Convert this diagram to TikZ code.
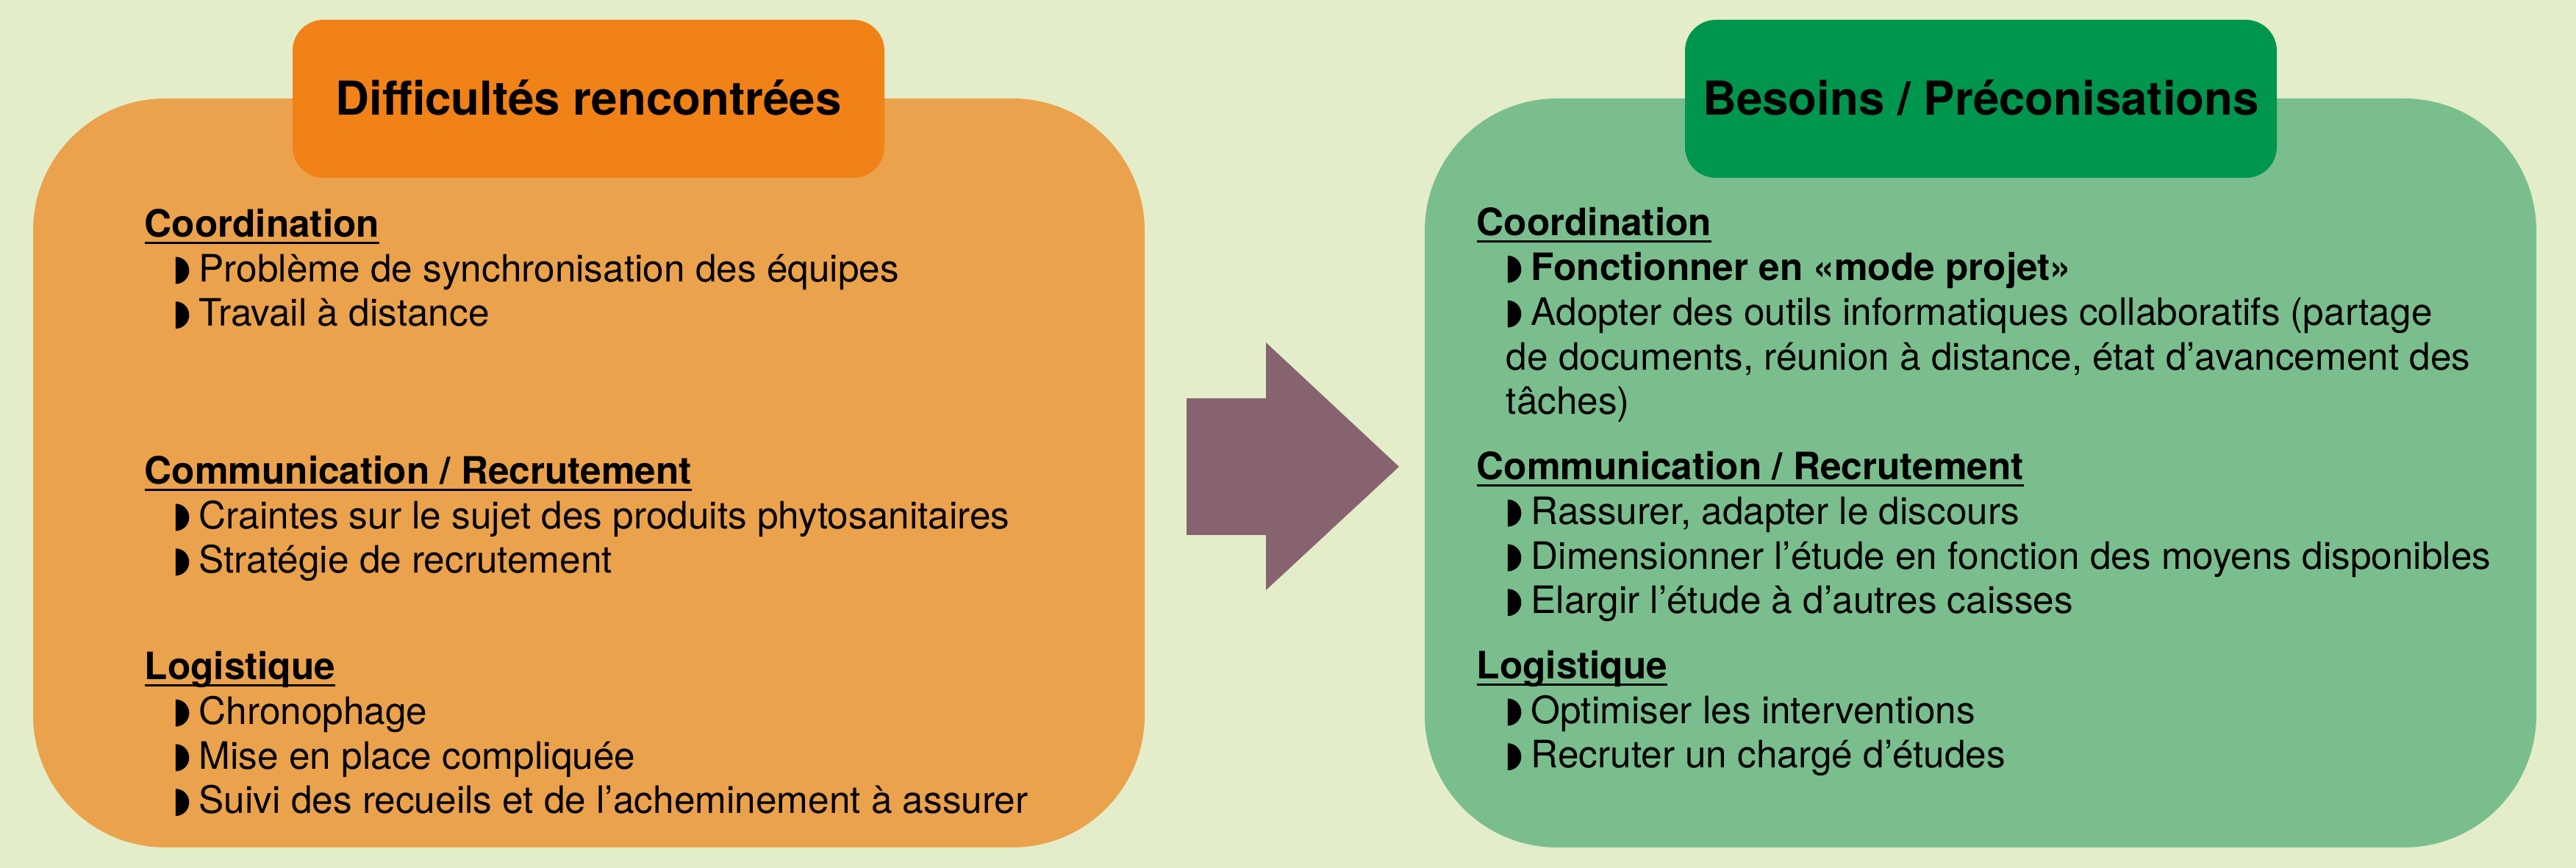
\documentclass[tikz,border=0pt]{standalone}
\usepackage{fontspec}
\setmainfont{TeX Gyre Heros}
\usepackage{tikz}

\definecolor{fond}{HTML}{E3EDC9}
\definecolor{orangeclair}{HTML}{EBA24C}
\definecolor{orangefonce}{HTML}{F08218}
\definecolor{vertclair}{HTML}{7ABE8E}
\definecolor{vertfonce}{HTML}{00964D}
\definecolor{fleche}{HTML}{876370}

\newcommand{\puce}{\tikz[baseline=0.9pt]\fill (0,0) arc[start angle=-90,end angle=90,radius=5.25pt] -- cycle;\hspace{3.8pt}}
\newcommand{\rubrique}[1]{\setbox0\hbox{\bfseries #1}\rlap{\rule[-2.7pt]{\wd0}{0.85pt}}\box0}
\newcommand{\point}{\hspace*{12pt}\puce}

\begin{document}
\begin{tikzpicture}[
    boite/.style={rounded corners=1.8cm},
    entete/.style={rounded corners=0.42cm},
    titre/.style={anchor=base, font=\bfseries\fontsize{18.1pt}{21pt}\selectfont},
    % ancre = ligne de base de la derniere ligne
    liste/.style={anchor=base west, align=left, inner sep=0pt, font=\fontsize{14.6pt}{17.3pt}\selectfont}]
    \fill[fond] (0,0) rectangle (35.04,11.81);
    \useasboundingbox (0,0) rectangle (35.04,11.81);
    % les deux cadres
    \fill[orangeclair, boite] (0.45,0.28) rectangle (15.57,10.47);
    \fill[vertclair, boite] (19.38,0.28) rectangle (34.50,10.47);
    \fill[orangefonce, entete] (3.98,9.39) rectangle (12.03,11.54);
    \fill[vertfonce, entete] (22.92,9.39) rectangle (30.97,11.54);
    \node[titre] (diff) at (8.005,10.24) {Difficultés rencontrées};
    \node[titre] (besoins) at (26.945,10.24) {Besoins / Préconisations};
    % la fleche
    \fill[fleche] (16.14,6.39) -- (17.22,6.39) -- (17.22,7.15) -- (19.03,5.46)
        -- (17.22,3.78) -- (17.22,4.53) -- (16.14,4.53) -- cycle;
    % difficultes
    \node[liste] (dcoord) at (1.96,7.37) {\rubrique{Coordination}\\
        \point Problème de synchronisation des équipes\\
        \point Travail à distance};
    \node[liste] (dcomm) at (1.96,4.01) {\rubrique{Communication / Recrutement}\\
        \point Craintes sur le sujet des produits phytosanitaires\\
        \point Stratégie de recrutement};
    \node[liste] (dlog) at (1.96,0.74) {\rubrique{Logistique}\\
        \point Chronophage\\
        \point Mise en place compliquée\\
        \point Suivi des recueils et de l’acheminement à assurer};
    % besoins
    \node[liste] (bcoord) at (20.08,6.17) {\rubrique{Coordination}\\
        \point \textbf{Fonctionner en «mode projet»}\\
        \point Adopter des outils informatiques collaboratifs (partage\\
        \hspace*{11.4pt}de documents, réunion à distance, état d’avancement des\\
        \hspace*{11.4pt}tâches)};
    \node[liste] (bcomm) at (20.08,3.46) {\rubrique{Communication / Recrutement}\\
        \point Rassurer, adapter le discours\\
        \point Dimensionner l’étude en fonction des moyens disponibles\\
        \point Elargir l’étude à d’autres caisses};
    \node[liste] (blog) at (20.08,1.36) {\rubrique{Logistique}\\
        \point Optimiser les interventions\\
        \point Recruter un chargé d’études};
\end{tikzpicture}
\end{document}
